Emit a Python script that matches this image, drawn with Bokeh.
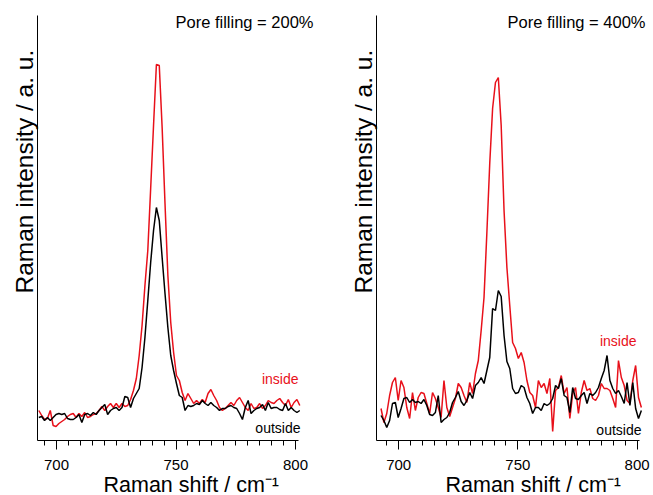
from bokeh.plotting import figure
from bokeh.models import Range1d, FixedTicker, Label, Title
from bokeh.layouts import row
from bokeh.embed import file_html
from bokeh.resources import INLINE

# ---------------- data ----------------
raman_shift = [692.6, 693.8, 695.0, 696.2, 697.4, 698.6, 699.8, 701.0, 702.2, 703.4,
               704.6, 705.8, 707.0, 708.2, 709.4, 710.6, 711.8, 713.0, 714.2, 715.4,
               716.6, 717.8, 719.0, 720.2, 721.4, 722.6, 723.8, 725.0, 726.2, 727.4,
               728.6, 729.8, 731.0, 732.2, 733.4, 734.6, 735.8, 737.0, 738.2, 739.4,
               740.6, 741.8, 743.0, 744.2, 745.4, 746.6, 747.8, 749.0, 750.2, 751.4,
               752.6, 753.8, 755.0, 756.2, 757.4, 758.6, 759.8, 761.0, 762.2, 763.4,
               764.6, 765.8, 767.0, 768.2, 769.4, 770.6, 771.8, 773.0, 774.2, 775.4,
               776.6, 777.8, 779.0, 780.2, 781.4, 782.6, 783.8, 785.0, 786.2, 787.4,
               788.6, 789.8, 791.0, 792.2, 793.4, 794.6, 795.8, 797.0, 798.2, 799.4,
               800.6, 801.8]

inside_200 = [33, 28, 24, 25, 33, 18, 17, 20, 22, 24,
              27, 29, 30, 26, 30, 27, 31, 26, 27, 29,
              30, 33, 37, 33, 37, 40, 36, 40, 36, 40,
              37, 38, 44, 53, 65, 88, 118, 158, 193, 255,
              318, 379, 378, 316, 240, 168, 121, 91, 68, 63,
              51, 43, 50, 45, 40, 43, 40, 44, 41, 50,
              54, 48, 43, 36, 33, 35, 38, 41, 38, 43,
              46, 41, 36, 33, 40, 35, 36, 40, 35, 38,
              43, 41, 40, 43, 45, 41, 38, 44, 36, 41,
              44, 38]

outside_200 = [26, 27, 23, 26, 23, 26, 29, 30, 29, 30,
               25, 24, 24, 26, 29, 21, 29, 30, 28, 31,
               29, 33, 36, 39, 29, 33, 35, 36, 33, 36,
               47, 46, 36, 45, 50, 55, 76, 106, 143, 181,
               213, 236, 223, 186, 150, 116, 88, 73, 60, 48,
               46, 33, 38, 37, 38, 40, 39, 43, 40, 38,
               41, 38, 36, 33, 35, 35, 37, 38, 36, 35,
               30, 24, 36, 43, 30, 33, 35, 36, 39, 33,
               41, 35, 36, 36, 34, 33, 40, 33, 36, 33,
               31, 33]

inside_400 = [35, 21, 30, 48, 61, 66, 43, 63, 56, 36,
              25, 51, 33, 46, 51, 50, 40, 30, 51, 45,
              36, 26, 63, 36, 27, 36, 45, 60, 56, 48,
              41, 61, 50, 70, 83, 113, 146, 211, 280, 335,
              361, 366, 318, 233, 176, 138, 101, 95, 85, 91,
              81, 63, 51, 48, 36, 63, 56, 60, 50, 65,
              12, 53, 56, 68, 50, 56, 25, 50, 56, 30,
              51, 63, 53, 55, 45, 43, 48, 60, 55, 55,
              53, 45, 36, 83, 66, 58, 43, 40, 63, 78,
              46, 36]

outside_400 = [28, 23, 16, 23, 40, 41, 26, 35, 45, 46,
               41, 44, 41, 42, 40, 44, 38, 29, 28, 31,
               48, 21, 24, 26, 31, 41, 46, 52, 42, 38,
               43, 51, 45, 58, 61, 66, 60, 73, 86, 135,
               133, 153, 147, 108, 82, 75, 55, 50, 51, 58,
               56, 46, 40, 30, 36, 36, 33, 40, 38, 40,
               45, 58, 55, 65, 48, 46, 31, 56, 45, 44,
               48, 51, 40, 50, 48, 51, 56, 65, 73, 88,
               63, 55, 50, 53, 47, 40, 61, 38, 61, 35,
               25, 33]

major_ticks = [700, 750, 800]
minor_ticks = [695, 705, 710, 715, 720, 725, 730, 735, 740, 745,
               755, 760, 765, 770, 775, 780, 785, 790, 795]
panel_titles = ["Pore filling = 200%", "Pore filling = 400%"]
x_label = "Raman shift / cm\u207b\u00b9"
y_label = "Raman intensity / a. u."
series_names = ["inside", "outside"]

RED = "#e8101a"
BLACK = "#000000"
FONT = "Liberation Sans"
PX_PER_UNIT = [2.39, 2.384]


def make_panel(inside, outside, title, x_start, x_end, border_left, frame_w,
               fig_w, scale, title_x, inside_pos, outside_pos, xlab_offset):
    view_end = x_start + frame_w / scale
    p = figure(output_backend="svg", toolbar_location=None,
               frame_width=frame_w, frame_height=425,
               width=fig_w, height=495,
               min_border_left=border_left, min_border_right=0,
               min_border_top=15, min_border_bottom=55,
               x_range=Range1d(x_start, view_end), y_range=Range1d(3, 428))
    p.outline_line_color = None
    p.grid.visible = False
    p.background_fill_color = "white"
    p.border_fill_color = "white"

    p.line(raman_shift, inside, line_color=RED, line_width=1.5)
    p.line(raman_shift, outside, line_color=BLACK, line_width=1.5)

    xa = p.xaxis[0]
    xa.bounds = (x_start, x_end)
    xa.ticker = FixedTicker(ticks=major_ticks, minor_ticks=minor_ticks)
    xa.major_tick_in = 0
    xa.major_tick_out = 9
    xa.minor_tick_in = 0
    xa.minor_tick_out = 5
    xa.axis_line_color = BLACK
    xa.major_tick_line_color = BLACK
    xa.minor_tick_line_color = BLACK
    xa.major_label_text_font = FONT
    xa.major_label_text_font_size = "15px"
    xa.major_label_text_color = BLACK
    xa.major_label_standoff = 10

    ya = p.yaxis[0]
    ya.ticker = FixedTicker(ticks=[])
    ya.major_tick_in = 0
    ya.major_tick_out = 0
    ya.minor_tick_out = 0
    ya.major_label_text_font_size = "0px"
    ya.major_label_standoff = 0
    ya.axis_line_color = BLACK

    ytitle = Title(text=y_label, align="left", offset=147, standoff=0,
                   text_font=FONT, text_font_size="24.5px", text_font_style="normal",
                   text_color=BLACK)
    p.add_layout(ytitle, "left")
    xtitle = Title(text=x_label, align="left", offset=xlab_offset, standoff=-4,
                   text_font=FONT, text_font_size="21.5px", text_font_style="normal",
                   text_color=BLACK)
    p.add_layout(xtitle, "below")

    p.add_layout(Label(x=title_x, y=419, x_units="screen", y_units="screen",
                       text=title, text_align="right", text_baseline="alphabetic",
                       text_font=FONT, text_font_size="16.5px", text_color=BLACK))
    p.add_layout(Label(x=inside_pos[0], y=inside_pos[1], x_units="screen", y_units="screen",
                       text=series_names[0], text_align="right", text_baseline="alphabetic",
                       text_font=FONT, text_font_size="14px", text_color=RED))
    p.add_layout(Label(x=outside_pos[0], y=outside_pos[1], x_units="screen", y_units="screen",
                       text=series_names[1], text_align="right", text_baseline="alphabetic",
                       text_font=FONT, text_font_size="14px", text_color=BLACK))
    return p


p1 = make_panel(inside_200, outside_200, panel_titles[0], 692.05, 801.3,
                37, 303, 340, PX_PER_UNIT[0], 276, (261, 62), (263, 13), 66)
p2 = make_panel(inside_400, outside_400, panel_titles[1], 690.7, 801.0,
                36, 277, 313, PX_PER_UNIT[1], 269, (260, 100), (265, 11), 69)

layout = row(p1, p2)

open("out.html", "w").write(file_html(layout, INLINE))
